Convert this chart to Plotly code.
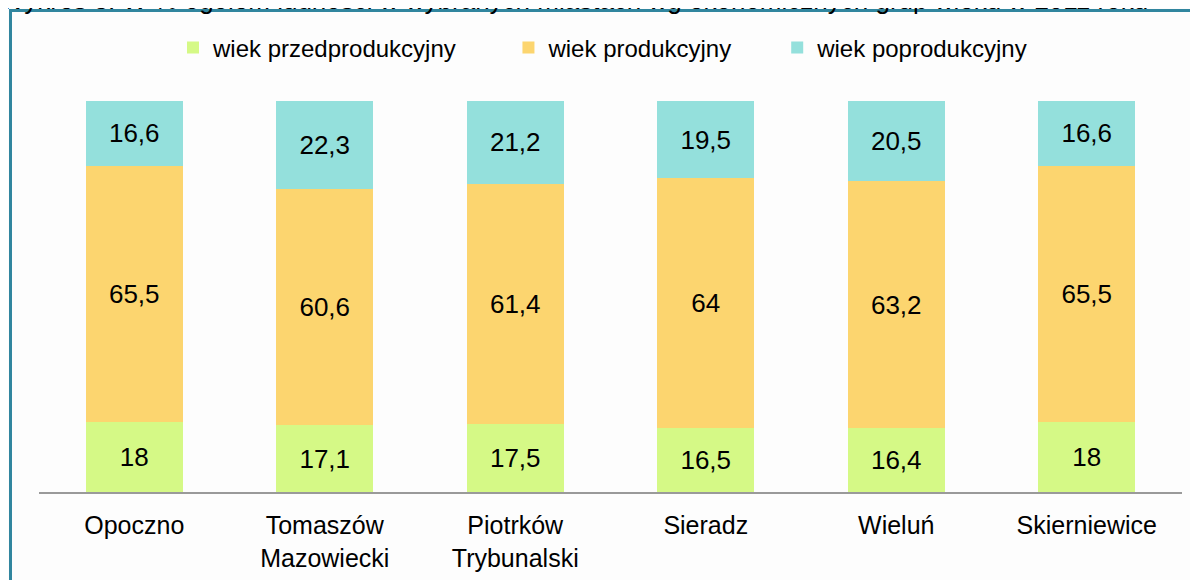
import plotly.graph_objects as go

categories = ["Opoczno", "Tomaszów<br>Mazowiecki", "Piotrków<br>Trybunalski", "Sieradz", "Wieluń", "Skierniewice"]
przed = [18, 17.1, 17.5, 16.5, 16.4, 18]
prod = [65.5, 60.6, 61.4, 64, 63.2, 65.5]
poprod = [16.6, 22.3, 21.2, 19.5, 20.5, 16.6]
series_names = ["wiek przedprodukcyjny", "wiek produkcyjny", "wiek poprodukcyjny"]
colors = ["#d5f986", "#fcd56f", "#94e0dc"]
title_text = "Wykres 3. W % ogółem ludności w wybranych miastach wg ekonomicznych grup wieku w 2011 roku"

FONT = "Liberation Sans, Arial, sans-serif"
NBSP = "\u00a0"
legend_pad = [7, 6, 0]


def fmt(v):
    return f"{v:g}".replace(".", ",")


fig = go.Figure()
for name, vals, col, pad in zip(series_names, [przed, prod, poprod], colors, legend_pad):
    fig.add_trace(go.Bar(
        x=categories, y=vals, name=name + NBSP * pad,
        marker=dict(color=col, line=dict(width=0)),
        text=[fmt(v) for v in vals],
        textposition="inside", insidetextanchor="middle", textangle=0,
        textfont=dict(family=FONT, size=26, color="#000000"),
        cliponaxis=False,
    ))

# the page body adds an 8px offset; figure pixel coords = window coords - OFF
OFF = 8
W, H = 1198, 580
L, R, T, B = 31, 24, 93, 96
pw = W - L - R
ph = H - T - B


def px_x(p):
    return (p - OFF - L) / pw


def px_y(p):
    return (H - B - (p - OFF)) / ph


fig.update_layout(
    width=W, height=H,
    barmode="stack", bargap=0.49,
    margin=dict(l=L, r=R, t=T, b=B),
    paper_bgcolor="#fdfdfd", plot_bgcolor="#fdfdfd",
    font=dict(family=FONT, color="#000000"),
    showlegend=True,
    legend=dict(orientation="h", x=px_x(603), xanchor="center", xref="paper",
                y=px_y(48), yanchor="middle",
                font=dict(size=24, family=FONT),
                traceorder="normal", bgcolor="rgba(0,0,0,0)"),
    xaxis=dict(showgrid=False, showline=True, linecolor="#9a9a9a", linewidth=2,
               ticks="", tickfont=dict(size=25, family=FONT), zeroline=False,
               ticklabelstandoff=10),
    yaxis=dict(range=[0, 100.11], visible=False, showgrid=False, zeroline=False),
    shapes=[dict(type="rect", xref="paper", yref="paper",
                 x0=px_x(10.5), x1=px_x(1230), y0=px_y(10.5), y1=px_y(640),
                 line=dict(color="#31869f", width=3), fillcolor="rgba(0,0,0,0)",
                 layer="above")],
    annotations=[dict(text=title_text, xref="paper", yref="paper",
                      x=px_x(-2), xanchor="left", y=px_y(17), yanchor="bottom",
                      showarrow=False, font=dict(size=26, family=FONT, color="#000000"))],
)

fig.write_html("out.html")
